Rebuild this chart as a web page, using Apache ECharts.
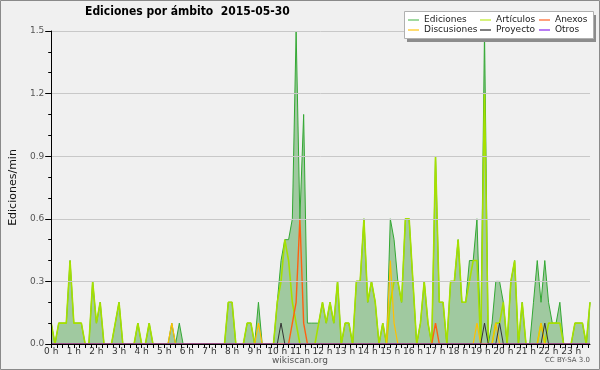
<!DOCTYPE html>
<html><head><meta charset="utf-8">
<script src="https://cdn.jsdelivr.net/npm/echarts@6/dist/echarts.min.js"></script>
<style>html,body{margin:0;padding:0;background:#f0f0f0}#c{width:600px;height:370px}</style>
</head><body><div id="c"></div>
<script>
// 10-minute buckets, 00:00 .. 23:50 (144 points), values in edits/min
const times = [];
for (let h = 0; h < 24; h++) for (let m = 0; m < 60; m += 10) times.push(h * 60 + m);

const ediciones = [
0.1,0,0.1,0.1,0.1,0.4,0.1,0.1,0.1,0,0,0.3,0.1,0.2,0,0,0,0.1,0.2,0,0,0,0,0.1,
0,0,0.1,0,0,0,0,0,0.1,0,0.1,0,0,0,0,0,0,0,0,0,0,0,0,0.2,0.2,0,0,0,0.1,0.1,
0,0.2,0,0,0,0,0.2,0.4,0.5,0.5,0.6,1.5,0.6,1.1,0.1,0.1,0.1,0.1,0.2,0.1,0.2,0.1,0.3,0,
0.1,0.1,0,0.3,0.3,0.6,0.2,0.3,0.2,0,0.1,0,0.6,0.5,0.3,0.2,0.6,0.6,0.3,0,0.1,0.3,0.1,0,
0.9,0.2,0.2,0,0.3,0.3,0.5,0.2,0.2,0.4,0.4,0.6,0,1.5,0,0.1,0.3,0.3,0.2,0,0.3,0.4,0,0.2,
0,0,0.2,0.4,0.2,0.4,0.2,0.1,0.1,0.2,0,0,0,0.1,0.1,0.1,0,0.2];
const articulos = [
0.1,0,0.1,0.1,0.1,0.4,0.1,0.1,0.1,0,0,0.3,0.1,0.2,0,0,0,0.1,0.2,0,0,0,0,0.1,
0,0,0.1,0,0,0,0,0,0,0,0,0,0,0,0,0,0,0,0,0,0,0,0,0.2,0.2,0,0,0,0.1,0.1,
0,0,0,0,0,0,0.2,0.3,0.5,0.4,0.2,0.1,0,0,0,0,0,0.1,0.2,0.1,0.2,0.1,0.3,0,
0.1,0.1,0,0.3,0.3,0.6,0.2,0.3,0.2,0,0.1,0,0.2,0.3,0.3,0.2,0.6,0.6,0.3,0,0.1,0.3,0.1,0,
0.9,0.2,0.2,0,0.3,0.3,0.5,0.2,0.2,0.3,0.4,0.4,0,1.2,0,0,0.1,0.1,0.2,0,0.3,0.4,0,0.2,
0,0,0,0,0.1,0,0.1,0.1,0.1,0.1,0,0,0,0.1,0.1,0.1,0,0.2];
const anexos = [
0,0,0,0,0,0,0,0,0,0,0,0,0,0,0,0,0,0,0,0,0,0,0,0,
0,0,0,0,0,0,0,0,0,0,0,0,0,0,0,0,0,0,0,0,0,0,0,0,0,0,0,0,0,0,
0,0,0,0,0,0,0,0,0,0,0.1,0.2,0.6,0.1,0,0,0,0,0,0,0,0,0,0,
0,0,0,0,0,0,0,0,0,0,0,0,0,0,0,0,0,0,0,0,0,0,0,0,
0.1,0,0,0,0,0,0,0,0,0,0,0,0,0,0,0,0,0,0,0,0,0,0,0,
0,0,0,0,0,0,0,0,0,0,0,0,0,0,0,0,0,0];
const discusiones = [
0,0,0,0,0,0,0,0,0,0,0,0,0,0,0,0,0,0,0,0,0,0,0,0,
0,0,0,0,0,0,0,0,0.1,0,0,0,0,0,0,0,0,0,0,0,0,0,0,0,0,0,0,0,0,0,
0,0.1,0,0,0,0,0,0,0,0,0,0,0,0,0,0,0,0,0,0,0,0,0,0,
0,0,0,0,0,0,0,0,0,0,0,0,0.4,0.1,0,0,0,0,0,0,0,0,0,0,
0,0,0,0,0,0,0,0,0,0,0,0.1,0,0,0,0,0.1,0,0,0,0,0,0,0,
0,0,0,0,0.1,0,0,0,0,0,0,0,0,0,0,0,0,0];
const proyecto = [
0,0,0,0,0,0,0,0,0,0,0,0,0,0,0,0,0,0,0,0,0,0,0,0,
0,0,0,0,0,0,0,0,0,0,0,0,0,0,0,0,0,0,0,0,0,0,0,0,0,0,0,0,0,0,
0,0,0,0,0,0,0,0.1,0,0,0,0,0,0,0,0,0,0,0,0,0,0,0,0,
0,0,0,0,0,0,0,0,0,0,0,0,0,0,0,0,0,0,0,0,0,0,0,0,
0,0,0,0,0,0,0,0,0,0,0,0,0,0.1,0,0,0,0.1,0,0,0,0,0,0,
0,0,0,0,0,0.1,0,0,0,0,0,0,0,0,0,0,0,0];
const otros = new Array(144).fill(0);

const seriesNames = ['Ediciones','Artículos','Anexos','Discusiones','Proyecto','Otros'];

const FONT = 'DejaVu Sans';
const CFONT = '"DejaVu Sans Condensed", "DejaVu Sans"';
const pair = arr => arr.map((v, i) => [times[i], v]);

const lineColors = ['#33a833','#a6e000','#ff6010','#ffc000','#333333','#9933ee'];
const legColors  = ['#80cc80','#c8ee50','#ff8050','#ffd040','#555555','#a050f0'];
const widths = [1, 1.6, 1.4, 1.2, 1, 1];
const datas = [ediciones, articulos, anexos, discusiones, proyecto, otros];

const series = seriesNames.map((n, k) => ({
  name: n, type: 'line', data: pair(datas[k]), showSymbol: false, symbol: 'none',
  animation: false, z: 2 + k,
  lineStyle: { color: lineColors[k], width: widths[k] },
  itemStyle: { color: legColors[k] },
  areaStyle: k === 0 ? { color: '#a0c9a0', opacity: 1 } : undefined
}));

const legendCol = (names, left) => ({
  show: true, orient: 'vertical', left: left, top: 15, itemGap: 0, z: 30,
  itemWidth: 11, itemHeight: 1.5, icon: 'rect', padding: 0,
  selectedMode: false,
  textStyle: { fontFamily: FONT, fontSize: 9, color: '#222', lineHeight: 10 },
  data: names.map(n => ({ name: n, itemStyle: { color: legColors[seriesNames.indexOf(n)] } }))
});

const chart = echarts.init(document.getElementById('c'), null, { renderer: 'canvas' });
chart.setOption({
  backgroundColor: '#f0f0f0',
  animation: false,
  title: { text: 'Ediciones por ámbito  2015-05-30', left: 85, top: 6, padding: 0,
    textStyle: { fontFamily: CFONT, fontSize: 12, fontWeight: 'bold', color: '#000' } },
  grid: { left: 46, right: 10, top: 31, bottom: 26, containLabel: false },
  xAxis: [{
    type: 'value', min: 0, max: 1430, interval: 15, z: 20,
    axisLine: { lineStyle: { color: '#000', width: 1 } },
    axisTick: { length: 4, lineStyle: { color: '#000' } },
    splitLine: { show: false },
    axisLabel: { margin: 3, fontFamily: FONT, fontSize: 9, color: '#333',
      showMaxLabel: false,
      formatter: v => (v % 60 === 0 ? (v / 60) + ' h' : '') }
  }],
  yAxis: [{
    type: 'value', min: 0, max: 1.5, interval: 0.3, z: 20,
    name: 'Ediciones/min', nameLocation: 'middle', nameGap: 30, nameRotate: 90,
    nameTextStyle: { fontFamily: FONT, fontSize: 11, color: '#111' },
    axisLine: { show: true, lineStyle: { color: '#000' } },
    axisTick: { show: true, length: 6, lineStyle: { color: '#000' } },
    minorTick: { show: true, splitNumber: 3, length: 3, lineStyle: { color: '#000' } },
    splitLine: { show: true, lineStyle: { color: '#c8c8c8', width: 1 } },
    axisLabel: { margin: 7, fontFamily: FONT, fontSize: 9, color: '#555',
      formatter: v => v.toFixed(1) }
  }],
  legend: [
    legendCol(['Ediciones','Discusiones'], 408),
    legendCol(['Artículos','Proyecto'], 480),
    legendCol(['Anexos','Otros'], 539)
  ],
  graphic: [
    { type: 'rect', z: 1, silent: true, shape: { x: 0.5, y: 0.5, width: 599, height: 369 },
      style: { fill: 'none', stroke: '#8a8a8a', lineWidth: 1 } },
    { type: 'group', z: 25, children: [
      { type: 'rect', z: 25, silent: true, shape: { x: 407, y: 15, width: 189, height: 27 },
        style: { fill: '#8c8c8c' } },
      { type: 'rect', z: 26, silent: true, shape: { x: 404.5, y: 11.5, width: 189, height: 27 },
        style: { fill: '#ffffff', stroke: '#b0b0b0', lineWidth: 1 } }
    ]},
    { type: 'text', z: 30, silent: true, left: 'center', top: 356,
      style: { text: 'wikiscan.org', font: '9px "DejaVu Sans"', fill: '#555' } },
    { type: 'text', z: 30, silent: true, right: 10, top: 357,
      style: { text: 'CC BY-SA 3.0', font: '7px "DejaVu Sans"', fill: '#555' } }
  ],
  series: series
});
</script></body></html>
